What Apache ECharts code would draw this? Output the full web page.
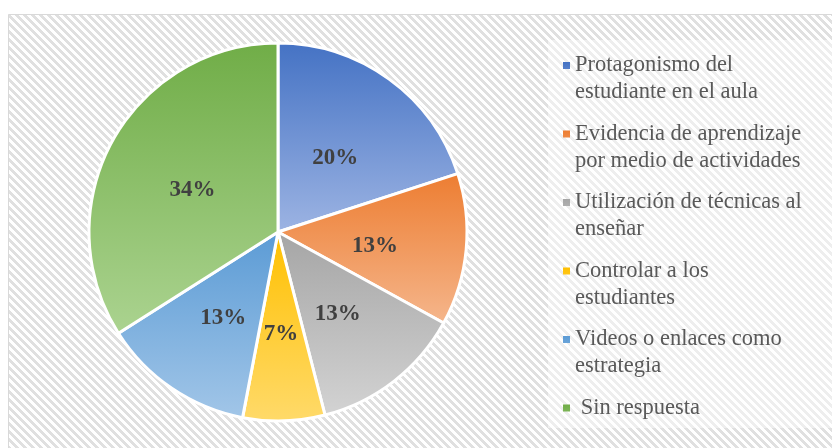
<!DOCTYPE html>
<html>
<head>
<meta charset="utf-8">
<script src="https://cdn.jsdelivr.net/npm/echarts@6/dist/echarts.min.js"></script>
<style>
  html, body { margin: 0; padding: 0; background: #ffffff; }
  #chart { width: 832px; height: 448px; }
</style>
</head>
<body>
<div id="chart"></div>
<script>
// Survey answers and their shares (percent)
const categories = [
  'Protagonismo del estudiante en el aula',
  'Evidencia de aprendizaje por medio de actividades',
  'Utilización de técnicas al enseñar',
  'Controlar a los estudiantes',
  'Videos o enlaces como estrategia',
  ' Sin respuesta'
];
const values = [20, 13, 13, 7, 13, 34];

// How each legend entry wraps onto two lines
const legendLines = [
  ['Protagonismo del', 'estudiante en el aula'],
  ['Evidencia de aprendizaje', 'por medio de actividades'],
  ['Utilización de técnicas al', 'enseñar'],
  ['Controlar a los', 'estudiantes'],
  ['Videos o enlaces como', 'estrategia'],
  [' Sin respuesta', ' ']
];

// Slice fills: darker at the top, lighter towards the bottom
const palette = [
  ['#4472C4', '#9DB4E3'],
  ['#ED7D31', '#F5B68C'],
  ['#A5A5A5', '#D3D3D3'],
  ['#FFC000', '#FFDA6A'],
  ['#5B9BD5', '#A2C6E8'],
  ['#70AD47', '#ABD390']
];

// Diagonal hatch used behind the chart
const hatch = document.createElement('canvas');
hatch.width = 8; hatch.height = 8;
const hctx = hatch.getContext('2d');
hctx.fillStyle = '#ffffff';
hctx.fillRect(0, 0, 8, 8);
hctx.fillStyle = '#e0e0e0';
for (let y = 0; y < 8; y++) {
  for (let x = 0; x < 8; x++) {
    if (((x - y) % 8 + 8) % 8 < 4) hctx.fillRect(x, y, 1, 1);
  }
}

const serif = "'Liberation Serif', 'Times New Roman', serif";
const legendIcon = 'path://M0,0L7,0L7,7L0,7Z M0,34L7,34';

const chart = echarts.init(document.getElementById('chart'), null, { renderer: 'canvas' });

chart.setOption({
  animation: false,
  backgroundColor: '#ffffff',
  graphic: [
    {
      type: 'rect', z: -10, silent: true,
      shape: { x: 8.5, y: 14.5, width: 840, height: 450 },
      style: { fill: { image: hatch, repeat: 'repeat' }, stroke: '#d9d9d9', lineWidth: 1 }
    },
    {
      type: 'rect', z: -9, silent: true,
      shape: { x: 548, y: 40, width: 290, height: 388 },
      style: { fill: 'rgba(255,255,255,0.45)' }
    }
  ],
  legend: {
    orient: 'vertical',
    left: 563,
    top: 52,
    width: 265,
    height: 430,
    padding: 0,
    itemWidth: 7,
    itemHeight: 34,
    itemGap: 14.5,
    icon: legendIcon,
    itemStyle: { borderWidth: 0 },
    data: categories.map(n => ({ name: n, icon: legendIcon })),
    formatter: name => legendLines[categories.indexOf(name)].join('\n'),
    textStyle: {
      fontFamily: serif,
      fontSize: 22.5,
      lineHeight: 27,
      color: '#595959'
    }
  },
  series: [{
    type: 'pie',
    center: [278, 232],
    radius: 189,
    startAngle: 90,
    clockwise: true,
    avoidLabelOverlap: false,
    itemStyle: { borderColor: '#ffffff', borderWidth: 3 },
    label: {
      show: true,
      position: 'inside',
      formatter: p => p.value + '%',
      fontFamily: serif,
      fontSize: 23,
      fontWeight: 'bold',
      color: '#404040'
    },
    labelLayout: { dy: 5 },
    labelLine: { show: false },
    emphasis: { disabled: true },
    data: categories.map((name, i) => ({
      name: name,
      value: values[i],
      itemStyle: {
        color: {
          type: 'linear', x: 0, y: 0, x2: 0, y2: 1,
          colorStops: [
            { offset: 0, color: palette[i][0] },
            { offset: 1, color: palette[i][1] }
          ]
        }
      }
    }))
  }]
});
</script>
</body>
</html>
